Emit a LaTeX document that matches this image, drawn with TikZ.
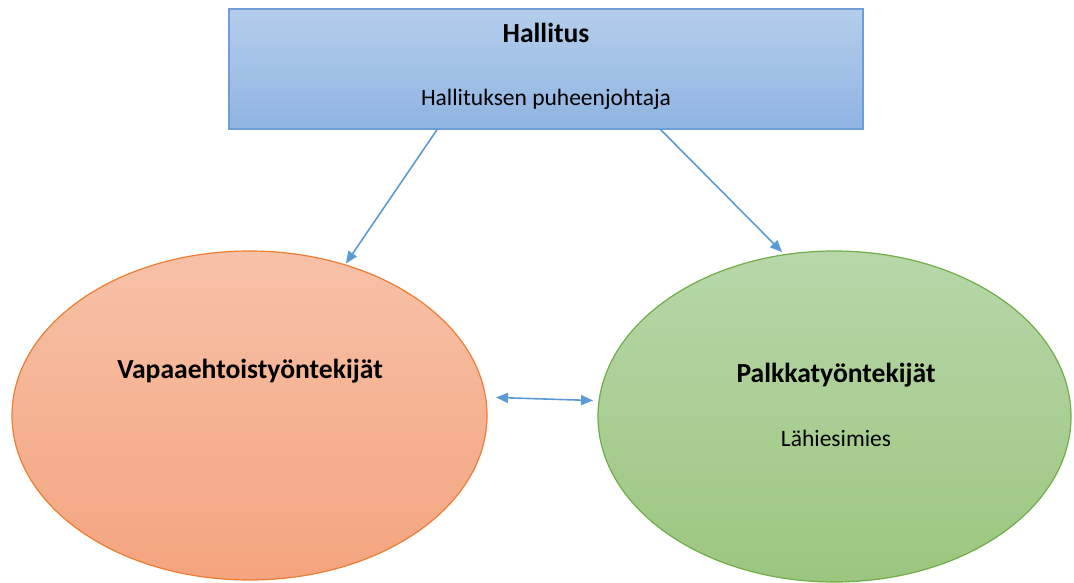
\documentclass[tikz,border=0pt]{standalone}
\usepackage{fontspec}
\setmainfont{Carlito}
\usetikzlibrary{shapes.geometric,arrows.meta}
\definecolor{boxtop}{HTML}{B4CDEB}
\definecolor{boxbot}{HTML}{8FB4E2}
\definecolor{boxline}{HTML}{6F9DD8}
\definecolor{ortop}{HTML}{F7C1A7}
\definecolor{orbot}{HTML}{F4A47F}
\definecolor{orline}{HTML}{ED7D31}
\definecolor{grtop}{HTML}{B7D7A9}
\definecolor{grbot}{HTML}{9CC67F}
\definecolor{grline}{HTML}{70AD47}
\definecolor{arrcol}{HTML}{5B9BD5}
\tikzset{
  titletext/.style={font=\fontsize{27.6}{30}\selectfont\bfseries, anchor=base, inner sep=0pt},
  subtext/.style={font=\fontsize{23.5}{26}\selectfont, anchor=base, inner sep=0pt},
  arr/.style={draw=arrcol, line width=1.6pt, -{Triangle[length=12pt,width=10pt]}},
  darr/.style={draw=arrcol, line width=1.6pt, {Triangle[length=12pt,width=10pt]}-{Triangle[length=12pt,width=10pt]}},
  topbox/.style={rectangle, draw=boxline, line width=1.2pt, top color=boxtop, bottom color=boxbot, minimum width=634pt, minimum height=120pt, inner sep=0pt, outer sep=0pt},
  orell/.style={ellipse, draw=orline, line width=1.2pt, top color=ortop, bottom color=orbot, minimum width=475pt, minimum height=329pt, inner sep=0pt, outer sep=0pt},
  grell/.style={ellipse, draw=grline, line width=1.2pt, top color=grtop, bottom color=grbot, minimum width=473pt, minimum height=331pt, inner sep=0pt, outer sep=0pt}
}
\begin{document}
\begin{tikzpicture}[x=1pt,y=-1pt]
\useasboundingbox[fill=white] (0,0) rectangle (1074,583);
\node[topbox] (box) at (546,69) {};
\node[orell] (left) at (249.5,415.5) {};
\node[grell] (right) at (834.5,416.5) {};
\node[titletext] (t1) at (546,43) {Hallitus};
\node[subtext] (s1) at (546,106) {Hallituksen puheenjohtaja};
\node[titletext] (t2) at (250,378) {Vapaaehtoistyöntekijät};
\node[titletext] (t3) at (836,382) {Palkkatyöntekijät};
\node[subtext] (s3) at (836,446) {Lähiesimies};
\draw[arr] ([xshift=208.5pt]box.south west) -- ([shift={(-1pt,2pt)}]left.57);
\draw[arr] ([xshift=431pt]box.south west) -- ([shift={(0pt,3pt)}]right.108.5);
\draw[darr] ([shift={(9pt,18pt)}]left.east) -- ([shift={(-5pt,16pt)}]right.west);
\end{tikzpicture}
\end{document}
